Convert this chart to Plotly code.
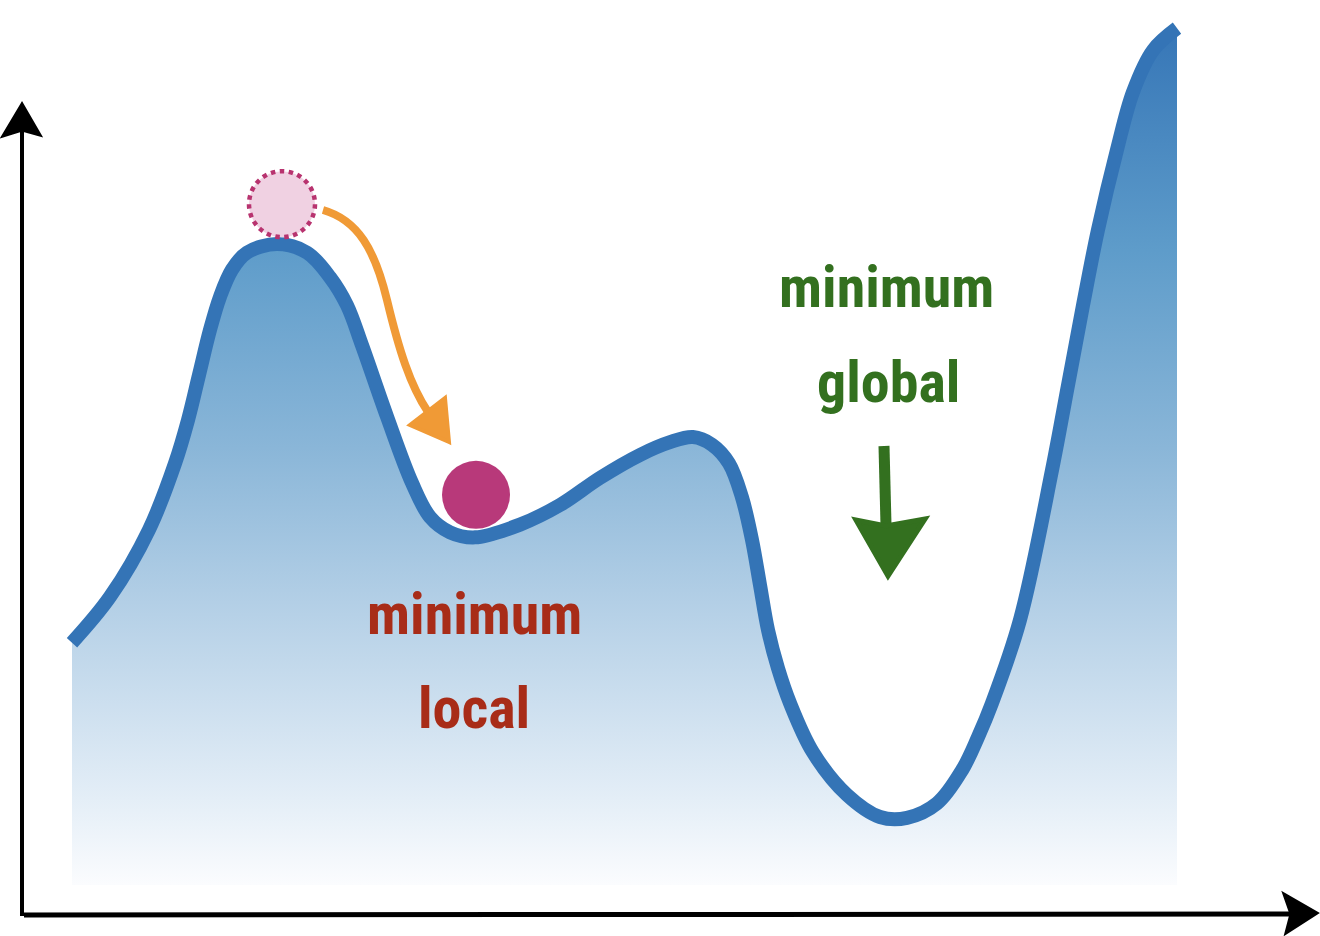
import plotly.graph_objects as go

# Courbe de coût (paramètre -> perte)
param = [0.00, 0.38, 0.77, 1.03, 1.16, 1.27, 1.38, 1.48, 1.60, 1.75,
         2.05, 2.35, 2.58, 2.75, 2.90, 3.15, 3.40, 3.58, 3.78, 4.03,
         4.48, 4.88, 5.28, 5.68, 5.98, 6.21, 6.40, 6.57, 6.70, 6.80,
         6.88, 6.96, 7.06, 7.18, 7.41, 7.75, 8.08, 8.35, 8.65, 8.90,
         9.06, 9.20, 9.48, 9.80, 9.96, 10.11, 10.26, 10.45, 10.61, 10.81,
         11.05]
perte = [2.85, 3.39, 4.18, 4.96, 5.47, 6.00, 6.53, 6.92, 7.24, 7.44,
         7.54, 7.44, 7.15, 6.82, 6.35, 5.51, 4.73, 4.33, 4.15, 4.09,
         4.24, 4.47, 4.79, 5.06, 5.21, 5.27, 5.18, 4.96, 4.56, 4.06,
         3.53, 3.00, 2.55, 2.14, 1.56, 1.06, 0.80, 0.79, 0.96, 1.35,
         1.74, 2.14, 3.12, 4.88, 5.88, 6.82, 7.71, 8.65, 9.33, 9.82,
         10.08]

# Billes : position de départ (fantôme) et d'arrivée (minimum local)
bille_depart = [2.10, 8.01]
bille_arrivee = [4.04, 4.59]

# Textes
texte_local = ["minimum", "local"]
texte_global = ["minimum", "global"]

W, H = 1320, 936


def pt(x, y):
    # position en pixels du dessin -> coordonnées papier
    return f"{x / W:.5f},{1 - y / H:.5f}"


fig = go.Figure()

# remplissage en dégradé sous la courbe
fig.add_trace(go.Scatter(
    x=param, y=perte,
    mode='none',
    fill='tozeroy',
    line=dict(shape='spline'),
    fillgradient=dict(
        type='vertical',
        start=0, stop=max(perte),
        colorscale=[[0, '#fbfcfe'], [0.1, '#e4eef7'], [0.33, '#b3cfe6'],
                    [0.51, '#8ab6d8'], [0.74, '#5e9cca'], [1, '#3676b7']],
    ),
    hoverinfo='skip',
))

# la courbe elle-même
fig.add_trace(go.Scatter(
    x=param, y=perte,
    mode='lines',
    line=dict(color='#3474b6', width=14, shape='spline'),
    hoverinfo='skip',
))

# bille arrivée
fig.add_trace(go.Scatter(
    x=[bille_arrivee[0]], y=[bille_arrivee[1]],
    mode='markers',
    marker=dict(size=68, color='#b8397a', line=dict(width=0)),
    hoverinfo='skip',
))

shapes = []

# bille de départ, contour pointillé
shapes.append(dict(
    type='circle', xref='x', yref='y',
    xsizemode='pixel', ysizemode='pixel',
    xanchor=bille_depart[0], yanchor=bille_depart[1],
    x0=-33, x1=33, y0=-33, y1=33,
    fillcolor='#f0d1e2',
    line=dict(color='#b8336f', width=4.5, dash='dot'),
))

# flèche orange (trajet de la bille)
shapes.append(dict(
    type='path', xref='paper', yref='paper',
    path=f"M{pt(323, 210)} C{pt(358, 220)} {pt(375, 250)} {pt(387, 300)} "
         f"S{pt(410, 385)} {pt(428, 412)}",
    line=dict(color='#f09a36', width=8),
    fillcolor='rgba(0,0,0,0)',
))
shapes.append(dict(
    type='path', xref='paper', yref='paper',
    path=f"M{pt(449, 442)} L{pt(410, 425)} L{pt(445, 398)} Z",
    line=dict(color='#f09a36', width=4),
    fillcolor='#f09a36',
))

# flèche verte vers le minimum global
shapes.append(dict(
    type='line', xref='paper', yref='paper',
    x0=884 / W, y0=1 - 446 / H, x1=886 / W, y1=1 - 525 / H,
    line=dict(color='#33701f', width=11),
))
shapes.append(dict(
    type='path', xref='paper', yref='paper',
    path=f"M{pt(888, 576)} L{pt(856, 520)} L{pt(886, 526)} L{pt(925, 519)} Z",
    line=dict(color='#33701f', width=5),
    fillcolor='#33701f',
))

# axes dessinés à la main
shapes.append(dict(
    type='line', xref='paper', yref='paper',
    x0=22 / W, y0=1 - 130 / H, x1=22 / W, y1=1 - 916 / H,
    line=dict(color='black', width=4),
))
shapes.append(dict(
    type='path', xref='paper', yref='paper',
    path=f"M{pt(22, 104)} L{pt(3, 136)} L{pt(22, 130)} L{pt(40, 135)} Z",
    line=dict(color='black', width=3),
    fillcolor='black',
))
shapes.append(dict(
    type='line', xref='paper', yref='paper',
    x0=24 / W, y0=1 - 915 / H, x1=1292 / W, y1=1 - 914 / H,
    line=dict(color='black', width=5),
))
shapes.append(dict(
    type='path', xref='paper', yref='paper',
    path=f"M{pt(1317, 913)} L{pt(1284, 894)} L{pt(1291, 914)} L{pt(1286, 933)} Z",
    line=dict(color='black', width=3),
    fillcolor='black',
))

police = "Liberation Sans Narrow, Roboto Condensed, DejaVu Sans Condensed, sans-serif"
annotations = []
for mot, (cx, cy) in zip(texte_local, [(474, 614), (474, 708)]):
    annotations.append(dict(
        text=mot, xref='paper', yref='paper',
        x=cx / W, y=1 - cy / H, xanchor='center', yanchor='middle',
        showarrow=False,
        font=dict(family=police, size=58, color='#a82c18', weight='bold'),
    ))
for mot, (cx, cy) in zip(texte_global, [(886, 287), (888, 382)]):
    annotations.append(dict(
        text=mot, xref='paper', yref='paper',
        x=cx / W, y=1 - cy / H, xanchor='center', yanchor='middle',
        showarrow=False,
        font=dict(family=police, size=58, color='#33701f', weight='bold'),
    ))

fig.update_layout(
    width=W, height=H,
    margin=dict(l=0, r=0, t=0, b=0),
    paper_bgcolor='white',
    plot_bgcolor='white',
    showlegend=False,
    xaxis=dict(visible=False, range=[-0.72, 12.48], fixedrange=True),
    yaxis=dict(visible=False, range=[-0.6, 10.412], fixedrange=True),
    shapes=shapes,
    annotations=annotations,
)

# pas de marge autour de la page, pas de barre d'outils
fig.write_html("out.html", config={'displayModeBar': False},
               post_script="document.body.style.margin='0';")
